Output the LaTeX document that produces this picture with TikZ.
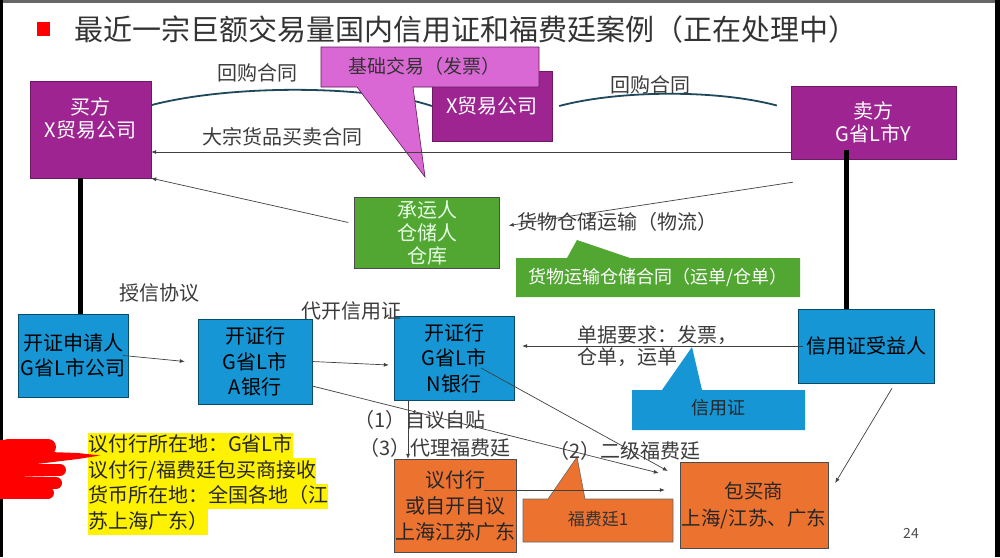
\documentclass[tikz,border=0pt]{standalone}
\usepackage{fontspec}
\setmainfont{Noto Sans CJK SC}
\usetikzlibrary{calc,arrows.meta}

\definecolor{purp}{RGB}{158,36,146}
\definecolor{pinkc}{RGB}{218,104,212}
\definecolor{grn}{RGB}{82,166,50}
\definecolor{blu}{RGB}{22,150,212}
\definecolor{orng}{RGB}{236,114,48}
\definecolor{ink}{RGB}{60,60,60}
\definecolor{arcc}{RGB}{30,72,92}

\tikzset{
  every node/.style={inner sep=0pt, align=center},
  pbox/.style={draw=purp!70!black, fill=purp, text=white, font=\fontsize{20}{23}\selectfont},
  gbox/.style={draw=black!70, fill=grn, text=white!90!green, font=\fontsize{20}{23}\selectfont},
  bbox/.style={draw=blu!50!black, fill=blu, text=black, font=\fontsize{20}{25.5}\selectfont},
  obox/.style={draw=black!70, fill=orng, text=black!85, font=\fontsize{20}{26}\selectfont},
  lbl/.style={text=ink, font=\fontsize{20}{22}\selectfont},
  hl/.style={fill=yellow, anchor=west, text=black!85, font=\fontsize{20}{22}\selectfont,
    text height=17pt, text depth=4.5pt, inner ysep=2pt},
  arr/.style={draw=black!75, line width=0.7pt, -{Latex[length=5pt,width=4pt]}},
  hoop/.style={draw=arcc, line width=1.8pt},
  bar/.style={draw=black, line width=5pt},
}

\begin{document}
\begin{tikzpicture}[x=1pt,y=-1pt]
  % Frame
  \useasboundingbox (0,0) rectangle (1000,557);
  \fill[white] (0,0) rectangle (1000,557);
  \fill[black!60] (0,0) rectangle (1000,2.5);
  \fill[black] (0,0) rectangle (2.5,557);
  \fill[black] (995,0) rectangle (1000,557);

  % Title
  \fill[red] (37,22) rectangle (50,36);
  \node[anchor=west, text=black!80, font=\fontsize{29}{32}\selectfont] (title) at (74,29)
    {最近一宗巨额交易量国内信用证和福费廷案例（正在处理中）};

  % Buyer, middle company, seller
  \node[pbox, minimum width=121pt, minimum height=97pt] (buyer) at (90.5,129.5) {};
  \node[pbox, draw=none, fill=none] (buyertxt) at (90.5,118.5) {买方\\X贸易公司};
  \node[pbox, minimum width=120pt, minimum height=70pt] (mid) at (492,106) {X贸易公司};
  \node[pbox, minimum width=165pt, minimum height=73pt] (seller) at (873.5,122.5) {卖方\\G省L市Y};

  % Buy-back contracts
  \draw[hoop] ($(buyer.north east)!0.25!(buyer.south east)$) .. controls +(80,-21) and +(-62,-21) .. (mid.west);
  \draw[hoop] ([xshift=7pt]mid.east) .. controls +(60,-16) and +(-60,-16) .. ([xshift=-14pt,yshift=17pt]seller.west);
  \node[lbl] (buyback1) at (257,73) {回购合同};
  \node[lbl] (buyback2) at (650,85) {回购合同};

  % Invoice callout
  \filldraw[fill=pinkc, draw=purp!60!black, line width=0.6pt]
    (321,47) -- (539,47) -- (539,87) -- (413,87) -- (425,177) -- (357,87) -- (321,87) -- cycle;
  \node[text=black!80, font=\fontsize{19}{22}\selectfont] (invoice) at (424,66) {基础交易（发票）};

  % Sales contract
  \draw[arr] (seller.west |- 0,152) -- (buyer.east |- 0,152);
  \node[lbl] (trade) at (282,137) {大宗货品买卖合同};

  % Logistics
  \node[gbox, minimum width=145pt, minimum height=71pt] (carrier) at (427,232.5) {承运人\\仓储人\\仓库};
  \coordinate (sfree) at ([xshift=2pt,yshift=-23pt]seller.south west);
  \node[lbl] (logis) at (617,222) {货物仓储运输（物流）};
  \draw[arr] (sfree) -- ([xshift=9pt,yshift=7pt]carrier.east);
  \draw[arr] ([xshift=-6pt,yshift=10pt]carrier.west) -- (buyer.south east);
  \fill[grn] (516,258) -- (567,258) -- (577,240) -- (630,258) -- (800,258) -- (800,297) -- (516,297) -- cycle;
  \node[text=white, font=\fontsize{18}{20}\selectfont] (waybill) at (658,277) {货物运输仓储合同（运单/仓单）};

  % Banks
  \node[bbox, minimum width=110pt, minimum height=83pt] (appl) at (73,355.5) {开证申请人\\G省L市公司};
  \node[bbox, minimum width=114pt, minimum height=85pt] (abank) at (255,361.5) {开证行\\G省L市\\A银行};
  \node[bbox, minimum width=120pt, minimum height=84pt] (nbank) at (454,358) {开证行\\G省L市\\N银行};
  \node[bbox, minimum width=136pt, minimum height=74pt] (benef) at (866,346) {信用证受益人};

  \draw[bar] (buyer.south -| 80,0) -- (appl.north -| 80,0);
  \draw[bar] (seller.south -| 846,0) ++(0,-9) -- (benef.north -| 846,0);

  \node[lbl] (credit) at (159,293) {授信协议};
  \draw[arr] ([xshift=-5pt]appl.east) -- ([xshift=-13pt]abank.west);
  \node[lbl] (issue) at (351,311) {代开信用证};
  \draw[arr] (abank.east) -- ([xshift=-5pt,yshift=-7pt]nbank.west);
  \draw[arr] ([xshift=5pt]benef.west) -- ([xshift=8pt,yshift=12pt]nbank.east);
  \node[lbl, anchor=west, align=left] (docs) at (577,346) {单据要求：发票，\\仓单，运单};

  % Letter of credit callout
  \fill[blu] (632,390) -- (662,390) -- (692,347) -- (702,390) -- (805,390) -- (805,430) -- (632,430) -- cycle;
  \node[text=black!85, font=\fontsize{18}{20}\selectfont] (lc) at (718,408) {信用证};

  % Forfaiting
  \node[obox, minimum width=122pt, minimum height=93pt] (negot) at (455,505.5) {议付行\\或自开自议\\上海江苏广东};
  \node[obox, minimum width=148pt, minimum height=86pt, font=\fontsize{19.5}{27}\selectfont] (baomai) at (754,505) {包买商\\上海/江苏、广东};
  \filldraw[fill=orng, draw=black!60, line width=0.6pt]
    (523,499) -- (548,499) -- (577,457) -- (585,499) -- (673,499) -- (673,542) -- (523,542) -- cycle;
  \node[text=black!80, font=\fontsize{17}{20}\selectfont] (f1) at (598,519) {福费廷1};

  \node[lbl] (own) at (420,420) {（1）自议自贴};
  \node[lbl] (agent) at (435,448) {（3）代理福费廷};
  \node[lbl] (second) at (625,451) {（2）二级福费廷};

  \draw[arr] (nbank.south -| 408,0) -- (negot.north -| 408,0);
  \draw[arr] (abank.east |- 0,386) -- ([xshift=-21pt,yshift=32pt]baomai.west);
  \draw[arr] ([xshift=27pt,yshift=-10pt]nbank.center) -- ([xshift=-12pt,yshift=34pt]baomai.west);
  \draw[arr] ([xshift=29pt,yshift=15.5pt]negot.center) -- ([xshift=-15pt,yshift=15pt]baomai.west);
  \draw[arr] ([xshift=26pt,yshift=-5pt]benef.south) -- ([xshift=7pt,yshift=22pt]baomai.east);

  % Note
  \node[hl] (n1) at (88,445.5) {议付行所在地：G省L市};
  \node[hl] (n2) at (88,471) {议付行/福费廷包买商接收};
  \node[hl] (n3) at (88,496.5) {货币所在地：全国各地（江};
  \node[hl] (n4) at (88,522) {苏上海广东）};

  % Hand
  \fill[red] (0,440) rectangle (25,499);
  \draw[red, line width=16pt, line cap=round] (8,447) -- (48,447);
  \fill[red] (20,451) -- (78,453) -- (100,455.5) -- (78,459) -- (20,466) -- cycle;
  \draw[red, line width=12pt, line cap=round] (10,470) -- (60,470);
  \draw[red, line width=12pt, line cap=round] (10,482) -- (56,483);
  \draw[red, line width=12pt, line cap=round] (8,493) -- (48,493);

  \node[text=black!70, font=\fontsize{14}{16}\selectfont] (page) at (911,533) {24};
\end{tikzpicture}
\end{document}
